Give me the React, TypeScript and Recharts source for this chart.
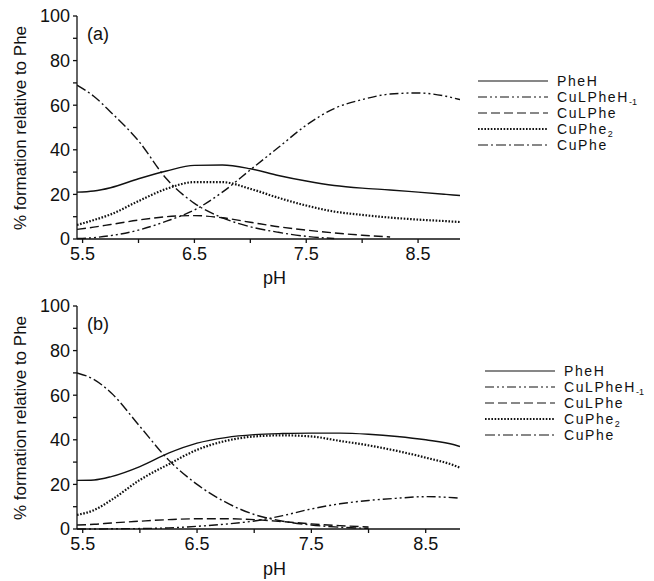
import React from 'react'
import { LineChart, Line, XAxis, YAxis } from 'recharts'

// pH grids
const phA = [5.45, 5.6, 5.75, 6.0, 6.25, 6.5, 6.75, 7.0, 7.25, 7.5, 7.75, 8.0, 8.25, 8.5, 8.75, 8.875]
const phB = [5.45, 5.6, 5.75, 6.0, 6.25, 6.5, 6.75, 7.0, 7.25, 7.5, 7.75, 8.0, 8.25, 8.5, 8.75, 8.8]

// panel (a)
const pheHA = [21, 21.5, 23, 27, 30.5, 33, 33.2, 31.5, 28.5, 26, 24, 22.8, 22, 21, 20, 19.5]
const cuLPheHm1A = [0.2, 0.6, 1.5, 4, 8, 13, 21, 31, 41, 51, 58.5, 62.5, 65, 65.5, 64, 62.5]
const cuLPheA = [4.3, 5.3, 6.5, 8.5, 10, 10.5, 9.5, 7.5, 5.5, 4, 2.7, 1.7, 0.9, null, null, null]
const cuPhe2A = [6.3, 8.5, 11, 17, 22.5, 25.5, 25.5, 22.5, 18.5, 15, 12.3, 10.8, 9.6, 8.7, 8, 7.6]
const cuPheA = [69, 64, 57, 44, 27, 16, 9.5, 5.5, 3, 1.2, 0.2, null, null, null, null, null]

// panel (b)
const pheHB = [21.8, 22, 23.5, 28, 34, 38.5, 41, 42.3, 42.8, 43, 43, 42.5, 41.5, 40, 37.8, 37]
const cuLPheHm1B = [0, 0, 0.1, 0.2, 0.5, 1.2, 2.2, 3.6, 6, 9, 11.3, 12.8, 13.8, 14.5, 14, 13.8]
const cuLPheB = [1.8, 2.1, 2.7, 3.5, 4.2, 4.6, 4.6, 4.2, 3.3, 2.3, 1.5, 0.9, null, null, null, null]
const cuPhe2B = [6.3, 8.5, 13, 22, 29, 35.5, 39.5, 41.5, 42, 41.5, 39.5, 37.5, 35, 32, 28.5, 27.5]
const cuPheB = [70, 67, 61, 46, 31, 20, 12, 6.5, 3.5, 1.8, 0.8, 0.3, null, null, null, null]

const xTicks = [5.5, 6, 6.5, 7, 7.5, 8, 8.5]
const yTicks = [0, 10, 20, 30, 40, 50, 60, 70, 80, 90, 100]

const FONT = '"Liberation Sans", Arial, sans-serif'

const styles: Record<string, { dash?: string; width: number }> = {
  PheH: { width: 1.4 },
  CuLPheHm1: { dash: '9 3 2 3 2 3', width: 1.4 },
  CuLPhe: { dash: '9 4', width: 1.4 },
  CuPhe2: { dash: '1.6 1.6', width: 2.2 },
  CuPhe: { dash: '10 3 2 3', width: 1.4 },
}

const Sub = ({ children }: { children: React.ReactNode }) => (
  <span style={{ fontSize: 9, position: 'relative', top: 3, letterSpacing: 0 }}>{children}</span>
)

const legendItems = [
  { key: 'PheH', label: <>PheH</> },
  { key: 'CuLPheHm1', label: <>CuLPheH<Sub>-1</Sub></> },
  { key: 'CuLPhe', label: <>CuLPhe</> },
  { key: 'CuPhe2', label: <>CuPhe<Sub>2</Sub></> },
  { key: 'CuPhe', label: <>CuPhe</> },
]

const LegendBox = ({ left, top }: { left: number; top: number }) => (
  <div style={{ position: 'absolute', left, top, fontFamily: FONT, fontSize: 14, color: '#111' }}>
    {legendItems.map((it) => (
      <div key={it.key} style={{ height: 16, display: 'flex', alignItems: 'center', whiteSpace: 'nowrap' }}>
        <svg width={70} height={6} style={{ marginRight: 9 }}>
          <line x1={0} y1={3} x2={70} y2={3} stroke="#111"
            strokeWidth={styles[it.key].width * 0.8}
            strokeDasharray={styles[it.key].dash} />
        </svg>
        <span style={{ display: 'inline-block', height: 15, lineHeight: '15px', letterSpacing: 1.6 }}>
          {it.label}
        </span>
      </div>
    ))}
  </div>
)

type PanelProps = {
  ph: number[]
  pheH: (number | null)[]
  cuLPheHm1: (number | null)[]
  cuLPhe: (number | null)[]
  cuPhe2: (number | null)[]
  cuPhe: (number | null)[]
  xMax: number
  tag: string
  height: number
  legendLeft: number
}

const Panel = (p: PanelProps) => {
  const data = p.ph.map((x, i) => ({
    pH: x,
    PheH: p.pheH[i],
    CuLPheHm1: p.cuLPheHm1[i],
    CuLPhe: p.cuLPhe[i],
    CuPhe2: p.cuPhe2[i],
    CuPhe: p.cuPhe[i],
  }))
  const tickStyle = { fontFamily: FONT, fontSize: 18, fill: '#111' }
  return (
    <div style={{ position: 'relative', width: 654, height: p.height }}>
      <LineChart width={654} height={p.height} data={data}
        margin={{ top: 16, right: 194, bottom: 0, left: 0 }}>
        <XAxis dataKey="pH" type="number" domain={[5.45, p.xMax]} allowDataOverflow
          ticks={xTicks} interval={0} height={p.height - 239}
          tickFormatter={(v: number) => (Math.round(v * 2) % 2 === 1 ? v.toFixed(1) : '')}
          tick={tickStyle} tickSize={4} tickMargin={4}
          stroke="#111" strokeWidth={1.3}
          label={{ value: 'pH', position: 'insideBottom', offset: 6, dx: 6,
            style: { fontFamily: FONT, fontSize: 18, fill: '#111' } }} />
        <XAxis xAxisId="top" orientation="top" dataKey="pH" type="number"
          domain={[5.45, p.xMax]} allowDataOverflow height={0} tick={false} tickLine={false}
          stroke="#111" strokeWidth={1.3} />
        <YAxis type="number" domain={[0, 100]} ticks={yTicks} interval={0} width={77}
          tickFormatter={(v: number) => (v % 20 === 0 ? String(v) : '')}
          tick={tickStyle} tickSize={4} tickMargin={3}
          stroke="#111" strokeWidth={1.3} />
        <YAxis yAxisId="r" orientation="right" width={0} tick={false} tickLine={false}
          stroke="#111" strokeWidth={1.3} />
        {legendItems.map((it) => (
          <Line key={it.key} dataKey={it.key} type="monotone" stroke="#111"
            strokeWidth={styles[it.key].width} strokeDasharray={styles[it.key].dash}
            dot={false} activeDot={false} connectNulls={false} isAnimationActive={false} />
        ))}
      </LineChart>
      <LegendBox left={p.legendLeft} top={73} />
      <div style={{ position: 'absolute', left: 87, top: 24, fontFamily: FONT, fontSize: 18, color: '#111' }}>
        {p.tag}
      </div>
      <div style={{
        position: 'absolute', left: 21, top: 128, fontFamily: FONT, fontSize: 17, color: '#111',
        transform: 'translate(-50%, -50%) rotate(-90deg)', whiteSpace: 'nowrap',
      }}>
        % formation relative to Phe
      </div>
    </div>
  )
}

export default function App() {
  return (
    <div style={{ position: 'absolute', left: 0, top: 0, width: 654, height: 581, background: '#fff' }}>
      <Panel ph={phA} pheH={pheHA} cuLPheHm1={cuLPheHm1A} cuLPhe={cuLPheA} cuPhe2={cuPhe2A}
        cuPhe={cuPheA} xMax={8.875} tag="(a)" height={290} legendLeft={478} />
      <Panel ph={phB} pheH={pheHB} cuLPheHm1={cuLPheHm1B} cuLPhe={cuLPheB} cuPhe2={cuPhe2B}
        cuPhe={cuPheB} xMax={8.8} tag="(b)" height={291} legendLeft={485} />
    </div>
  )
}
